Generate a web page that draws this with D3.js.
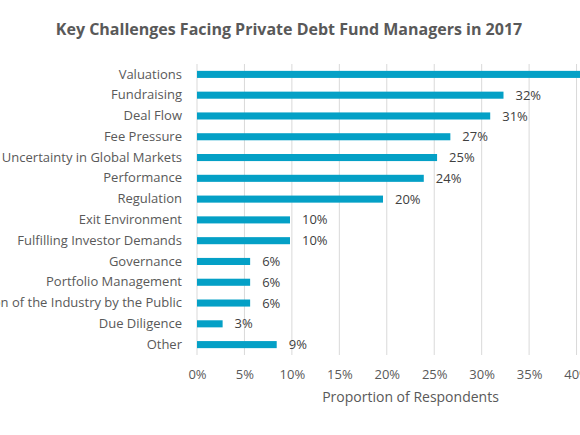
<!DOCTYPE html>
<html>
<head>
<meta charset="utf-8">
<script src="https://cdn.jsdelivr.net/npm/d3@7"></script>
<style>
  html, body { margin: 0; padding: 0; background: #fff; overflow: hidden; }
  svg { display: block; font-family: "Open Sans", sans-serif; }
</style>
</head>
<body>
<div id="chart"></div>
<script>
// Datos del grafico
const categorias = [
  "Valuations", "Fundraising", "Deal Flow", "Fee Pressure",
  "Uncertainty in Global Markets", "Performance", "Regulation",
  "Exit Environment", "Fulfilling Investor Demands", "Governance",
  "Portfolio Management", "Perception of the Industry by the Public",
  "Due Diligence", "Other"
];
const valores = [0.42, 0.323, 0.309, 0.267, 0.253, 0.239, 0.196,
                 0.098, 0.098, 0.056, 0.056, 0.056, 0.027, 0.084];
const etiquetas = ["42%", "32%", "31%", "27%", "25%", "24%", "20%",
                   "10%", "10%", "6%", "6%", "6%", "3%", "9%"];
const ticksX = [0, 0.05, 0.10, 0.15, 0.20, 0.25, 0.30, 0.35, 0.40, 0.45];

// Dimensiones (el area del grafico se sale por la derecha, como en la imagen)
const W = 580, H = 435;
const margin = {top: 64, left: 197, bottom: 80};
const plotW = 427;
const plotH = H - margin.top - margin.bottom;

const svg = d3.select("#chart").append("svg")
  .attr("width", W).attr("height", H);

// Titulo
svg.append("text")
  .attr("x", 289).attr("y", 35)
  .attr("text-anchor", "middle")
  .attr("font-size", 16)
  .attr("font-weight", "bold")
  .attr("fill", "#595959")
  .text("Key Challenges Facing Private Debt Fund Managers in 2017");

const g = svg.append("g")
  .attr("transform", `translate(${margin.left},${margin.top})`);

// Escalas
const x = d3.scaleLinear().domain([0, 0.45]).range([0, plotW]);
const y = d3.scaleBand().domain(categorias).range([0, plotH]).paddingInner(0.66).paddingOuter(0.33);

// Lineas de la cuadricula
g.selectAll(".grid").data(ticksX).enter().append("line")
  .attr("class", "grid")
  .attr("x1", d => x(d)).attr("x2", d => x(d))
  .attr("y1", 0).attr("y2", plotH)
  .attr("stroke", "#d9d9d9").attr("stroke-width", 1);

// Eje X
const xAxis = g.append("g")
  .attr("transform", `translate(0,${plotH})`)
  .call(d3.axisBottom(x).tickValues(ticksX).tickFormat(d3.format(".0%")).tickSize(0).tickPadding(15));
xAxis.select(".domain").remove();
xAxis.selectAll("text").attr("font-size", 13).attr("fill", "#595959").attr("font-family", "Open Sans, sans-serif");

// Eje Y
const yAxis = g.append("g")
  .call(d3.axisLeft(y).tickSize(0).tickPadding(15));
yAxis.select(".domain").remove();
yAxis.selectAll("text").attr("font-size", 13).attr("fill", "#595959").attr("font-family", "Open Sans, sans-serif");

// Barras
g.selectAll(".bar").data(valores).enter().append("rect")
  .attr("class", "bar")
  .attr("x", x(0))
  .attr("y", (d, i) => y(categorias[i]))
  .attr("width", d => x(d) - x(0))
  .attr("height", y.bandwidth())
  .attr("fill", "#04a0c6");

// Etiquetas de valor
g.selectAll(".label").data(valores).enter().append("text")
  .attr("class", "label")
  .attr("x", d => x(d) + 12)
  .attr("y", (d, i) => y(categorias[i]) + y.bandwidth() / 2)
  .attr("dy", "0.35em")
  .attr("font-size", 13)
  .attr("fill", "#404040")
  .text((d, i) => etiquetas[i]);

// Titulo del eje X
svg.append("text")
  .attr("x", margin.left + plotW / 2).attr("y", 402)
  .attr("text-anchor", "middle")
  .attr("font-size", 14)
  .attr("fill", "#595959")
  .text("Proportion of Respondents");
</script>
</body>
</html>
